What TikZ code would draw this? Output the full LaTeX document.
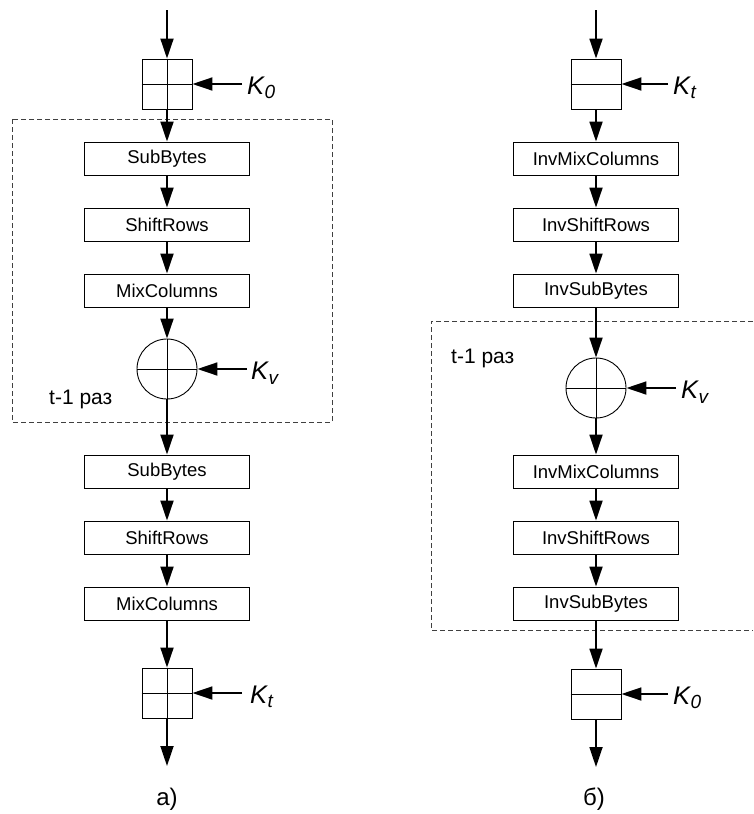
\documentclass[tikz,border=0pt]{standalone}
\usepackage{fontspec}
\setmainfont{Liberation Sans}
\usetikzlibrary{arrows.meta}
\newcommand{\Klab}[1]{{\fontsize{25.5}{30}\selectfont\textit{K}\kern-0.5pt\raisebox{-4.5pt}{\fontsize{19}{22}\selectfont\textit{#1}}}}
\begin{document}
\begin{tikzpicture}[x=1pt,y=-1pt,
  opbox/.style={draw,line width=0.9pt,rectangle,minimum width=165pt,minimum height=33pt,inner sep=0pt,font=\fontsize{18.5}{22}\selectfont},
  keybox/.style={draw,line width=0.9pt,rectangle,minimum width=50pt,minimum height=50pt,inner sep=0pt},
  xorc/.style={draw,line width=0.9pt,circle,minimum size=60pt,inner sep=0pt},
  flow/.style={line width=1.8pt,-{Triangle[length=20pt,width=13pt]}},
  thinline/.style={line width=0.9pt},
  loopbox/.style={draw=black!75,line width=0.9pt,dash pattern=on 5pt off 3pt},
  klabel/.style={anchor=west,inner sep=0pt},
  reptext/.style={font=\fontsize{21}{25}\selectfont,inner sep=0pt},
  subcap/.style={font=\fontsize{24}{28}\selectfont,inner sep=0pt}]
\useasboundingbox (0,0) rectangle (753,814);
% ---------- left column (a) ----------
\draw[loopbox] (12,119) rectangle (332,422);
\coordinate (in1) at (167,10);
\node[keybox] (k0) at (167,84) {};
\node[opbox] (sb1) at (167,158.5) {SubBytes};
\node[opbox] (sr1) at (167,224.5) {ShiftRows};
\node[opbox] (mc1) at (167,290.5) {MixColumns};
\node[xorc] (x1) at (167,369) {};
\node[opbox] (sb2) at (167,471.5) {SubBytes};
\node[opbox] (sr2) at (167,537.5) {ShiftRows};
\node[opbox] (mc2) at (167,603.5) {MixColumns};
\node[keybox] (kt) at (167,693) {};
\coordinate (out1) at (167,766);
\draw[thinline] (k0.north) -- (k0.south) (k0.west) -- (k0.east);
\draw[thinline] (kt.north) -- (kt.south) (kt.west) -- (kt.east);
\draw[thinline] (x1.north) -- (x1.south) (x1.west) -- (x1.east);
\draw[flow] (in1) -- (k0.north);
\draw[flow] (k0.south) -- (sb1.north);
\draw[flow] (sb1.south) -- (sr1.north);
\draw[flow] (sr1.south) -- (mc1.north);
\draw[flow] (mc1.south) -- (x1.north);
\draw[flow] (x1.south) -- (sb2.north);
\draw[flow] (sb2.south) -- (sr2.north);
\draw[flow] (sr2.south) -- (mc2.north);
\draw[flow] (mc2.south) -- (kt.north);
\draw[flow] (kt.south) -- (out1);
\coordinate (k0in) at (242,84);
\coordinate (kvin) at (247,369);
\coordinate (ktin) at (242,693);
\draw[flow] (k0in) -- (k0.east);
\draw[flow] (kvin) -- (x1.east);
\draw[flow] (ktin) -- (kt.east);
\node[klabel] (lk0) at (247,88) {\Klab{0}};
\node[klabel] (lkv) at (251,373) {\Klab{v}};
\node[klabel] (lkt) at (250,697) {\Klab{t}};
\node[reptext,anchor=base west] (rep1) at (49,404) {t-1 раз};
\node[subcap] (capa) at (167,799) {а)};
% ---------- right column (b) ----------
\draw[loopbox] (753,321) -- (431,321) -- (431,630) -- (753,630);
\coordinate (in2) at (596,10);
\node[keybox] (kt2) at (596,84) {};
\node[opbox] (imc1) at (596,158.5) {InvMixColumns};
\node[opbox] (isr1) at (596,224.5) {InvShiftRows};
\node[opbox] (isb1) at (596,290.5) {InvSubBytes};
\node[xorc] (x2) at (596,388) {};
\node[opbox] (imc2) at (596,471.5) {InvMixColumns};
\node[opbox] (isr2) at (596,537.5) {InvShiftRows};
\node[opbox] (isb2) at (596,603.5) {InvSubBytes};
\node[keybox] (k02) at (596,694) {};
\coordinate (out2) at (596,767);
\draw[thinline] (kt2.west) -- (kt2.east);
\draw[thinline] (k02.west) -- (k02.east);
\draw[thinline] (x2.north) -- (x2.south) (x2.west) -- (x2.east);
\draw[flow] (in2) -- (kt2.north);
\draw[flow] (kt2.south) -- (imc1.north);
\draw[flow] (imc1.south) -- (isr1.north);
\draw[flow] (isr1.south) -- (isb1.north);
\draw[flow] (isb1.south) -- (x2.north);
\draw[flow] (x2.south) -- (imc2.north);
\draw[flow] (imc2.south) -- (isr2.north);
\draw[flow] (isr2.south) -- (isb2.north);
\draw[flow] (isb2.south) -- (k02.north);
\draw[flow] (k02.south) -- (out2);
\coordinate (kt2in) at (668,84);
\coordinate (kv2in) at (676,388);
\coordinate (k02in) at (668,694);
\draw[flow] (kt2in) -- (kt2.east);
\draw[flow] (kv2in) -- (x2.east);
\draw[flow] (k02in) -- (k02.east);
\node[klabel] (lkt2) at (673,88) {\Klab{t}};
\node[klabel] (lkv2) at (681,392) {\Klab{v}};
\node[klabel] (lk02) at (673,698) {\Klab{0}};
\node[reptext,anchor=base west] (rep2) at (451,363) {t-1 раз};
\node[subcap] (capb) at (594,799) {б)};
\end{tikzpicture}
\end{document}
